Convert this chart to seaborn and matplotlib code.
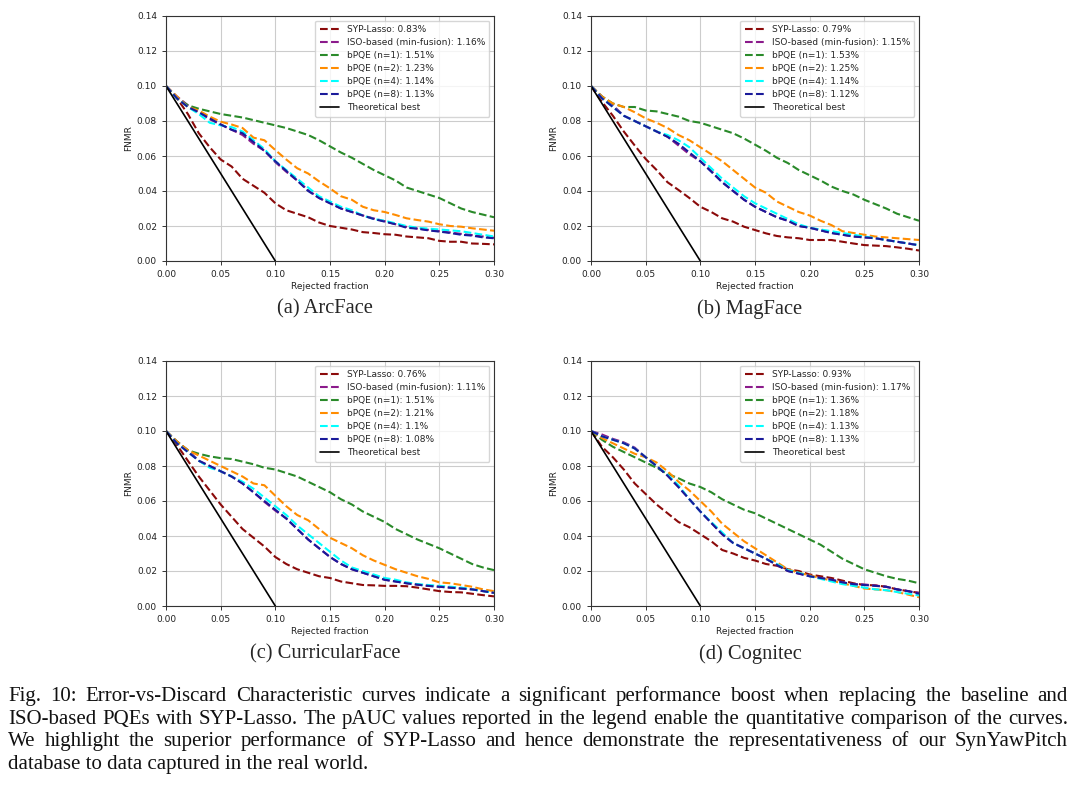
import matplotlib
matplotlib.use("Agg")
import matplotlib.pyplot as plt
import numpy as np
import pandas as pd
import seaborn as sns

# rejected fraction grid shared by all curves
rejected = [round(0.01 * i, 2) for i in range(31)]

series_names = ["SYP-Lasso", "ISO-based (min-fusion)", "bPQE (n=1)",
                "bPQE (n=2)", "bPQE (n=4)", "bPQE (n=8)"]
series_colors = ["#8b0a0a", "#8b1a8b", "#2a8a2a", "darkorange", "cyan", "#1a1a9a"]

panel_titles = ["(a) ArcFace", "(b) MagFace", "(c) CurricularFace", "(d) Cognitec"]

pauc_arcface = ["0.83%", "1.16%", "1.51%", "1.23%", "1.14%", "1.13%"]
pauc_magface = ["0.79%", "1.15%", "1.53%", "1.25%", "1.14%", "1.12%"]
pauc_curricular = ["0.76%", "1.11%", "1.51%", "1.21%", "1.1%", "1.08%"]
pauc_cognitec = ["0.93%", "1.17%", "1.36%", "1.18%", "1.13%", "1.13%"]

# ---- ArcFace ----
arc_syp = [0.100, 0.093, 0.084, 0.073, 0.065, 0.058, 0.054, 0.047, 0.043, 0.039, 0.033,
           0.029, 0.027, 0.025, 0.022, 0.020, 0.019, 0.018, 0.0165, 0.016, 0.0153,
           0.015, 0.014, 0.0135, 0.013, 0.0115, 0.011, 0.011, 0.010, 0.0098, 0.0095]
arc_iso = [0.100, 0.094, 0.089, 0.085, 0.081, 0.078, 0.075, 0.072, 0.067, 0.063, 0.0565,
           0.051, 0.046, 0.0405, 0.036, 0.033, 0.030, 0.028, 0.026, 0.0243, 0.0227,
           0.021, 0.0195, 0.0185, 0.0178, 0.017, 0.0163, 0.0155, 0.0148, 0.014, 0.0133]
arc_n1 = [0.100, 0.093, 0.089, 0.087, 0.0855, 0.084, 0.083, 0.082, 0.0805, 0.079, 0.0775,
          0.076, 0.074, 0.072, 0.069, 0.0655, 0.062, 0.059, 0.0555, 0.052, 0.049,
          0.046, 0.042, 0.040, 0.038, 0.036, 0.033, 0.030, 0.028, 0.0265, 0.025]
arc_n2 = [0.100, 0.094, 0.088, 0.086, 0.0825, 0.0796, 0.078, 0.076, 0.0705, 0.069, 0.0634,
          0.058, 0.053, 0.050, 0.0455, 0.0415, 0.037, 0.035, 0.031, 0.029, 0.028,
          0.0263, 0.0244, 0.0234, 0.0225, 0.021, 0.020, 0.0196, 0.0187, 0.018, 0.0173]
arc_n4 = [0.100, 0.093, 0.088, 0.084, 0.079, 0.0775, 0.0765, 0.074, 0.069, 0.064, 0.057,
          0.052, 0.047, 0.042, 0.037, 0.034, 0.031, 0.029, 0.026, 0.024, 0.023,
          0.0215, 0.020, 0.019, 0.0185, 0.018, 0.0175, 0.017, 0.016, 0.015, 0.014]
arc_n8 = [0.100, 0.093, 0.088, 0.085, 0.0815, 0.078, 0.075, 0.073, 0.068, 0.063, 0.057,
          0.0515, 0.046, 0.040, 0.036, 0.033, 0.030, 0.028, 0.026, 0.024, 0.0225,
          0.021, 0.019, 0.0185, 0.0175, 0.0168, 0.016, 0.015, 0.0145, 0.0135, 0.013]

# ---- MagFace ----
mag_syp = [0.100, 0.091, 0.083, 0.074, 0.066, 0.0583, 0.052, 0.045, 0.0406, 0.036, 0.031,
           0.028, 0.0244, 0.0225, 0.0196, 0.0177, 0.0158, 0.0143, 0.0135, 0.013, 0.012,
           0.012, 0.012, 0.011, 0.010, 0.0091, 0.0088, 0.0085, 0.0078, 0.007, 0.006]
mag_iso = [0.100, 0.094, 0.089, 0.083, 0.080, 0.077, 0.074, 0.071, 0.066, 0.061, 0.057,
           0.0515, 0.045, 0.040, 0.035, 0.031, 0.028, 0.025, 0.023, 0.020, 0.019,
           0.0175, 0.016, 0.015, 0.014, 0.0135, 0.013, 0.012, 0.011, 0.010, 0.009]
mag_n1 = [0.100, 0.094, 0.090, 0.088, 0.088, 0.086, 0.0855, 0.084, 0.0825, 0.080, 0.079,
          0.077, 0.075, 0.073, 0.070, 0.0665, 0.063, 0.059, 0.056, 0.052, 0.049,
          0.046, 0.0425, 0.040, 0.038, 0.035, 0.0325, 0.030, 0.027, 0.025, 0.023]
mag_n2 = [0.100, 0.094, 0.090, 0.088, 0.085, 0.0815, 0.079, 0.076, 0.072, 0.069, 0.065,
          0.061, 0.057, 0.052, 0.047, 0.042, 0.039, 0.034, 0.031, 0.028, 0.026,
          0.023, 0.0205, 0.017, 0.016, 0.015, 0.014, 0.0135, 0.013, 0.0125, 0.012]
mag_n4 = [0.100, 0.093, 0.088, 0.083, 0.080, 0.077, 0.074, 0.072, 0.069, 0.065, 0.059,
          0.053, 0.047, 0.042, 0.037, 0.033, 0.030, 0.027, 0.024, 0.021, 0.019,
          0.018, 0.017, 0.016, 0.015, 0.014, 0.013, 0.012, 0.011, 0.010, 0.009]
mag_n8 = [0.100, 0.093, 0.088, 0.083, 0.080, 0.077, 0.074, 0.071, 0.067, 0.062, 0.057,
          0.051, 0.045, 0.040, 0.035, 0.031, 0.028, 0.025, 0.023, 0.020, 0.019,
          0.0175, 0.016, 0.015, 0.014, 0.0135, 0.013, 0.012, 0.011, 0.010, 0.009]

# ---- CurricularFace ----
cur_syp = [0.100, 0.092, 0.083, 0.074, 0.066, 0.058, 0.051, 0.044, 0.039, 0.034, 0.028,
           0.024, 0.021, 0.019, 0.017, 0.016, 0.014, 0.013, 0.012, 0.0118, 0.0115,
           0.0115, 0.0113, 0.0105, 0.0095, 0.0085, 0.008, 0.0078, 0.007, 0.0062, 0.0055]
cur_iso = [0.100, 0.094, 0.089, 0.083, 0.080, 0.077, 0.074, 0.070, 0.065, 0.0595, 0.0545,
           0.050, 0.044, 0.038, 0.033, 0.028, 0.024, 0.021, 0.019, 0.017, 0.015,
           0.014, 0.013, 0.0122, 0.0115, 0.011, 0.0105, 0.010, 0.0095, 0.0085, 0.0075]
cur_n1 = [0.100, 0.094, 0.089, 0.087, 0.0855, 0.0845, 0.084, 0.0825, 0.081, 0.079, 0.078,
          0.076, 0.074, 0.071, 0.068, 0.065, 0.061, 0.058, 0.054, 0.051, 0.048,
          0.044, 0.041, 0.038, 0.0355, 0.033, 0.030, 0.027, 0.024, 0.022, 0.0205]
cur_n2 = [0.100, 0.094, 0.089, 0.086, 0.083, 0.080, 0.077, 0.074, 0.070, 0.069, 0.063,
          0.057, 0.052, 0.049, 0.044, 0.039, 0.036, 0.033, 0.029, 0.026, 0.0235,
          0.021, 0.019, 0.017, 0.0155, 0.0135, 0.013, 0.012, 0.011, 0.0095, 0.0085]
cur_n4 = [0.100, 0.093, 0.088, 0.083, 0.079, 0.077, 0.074, 0.071, 0.067, 0.062, 0.057,
          0.052, 0.046, 0.041, 0.036, 0.031, 0.026, 0.022, 0.020, 0.018, 0.016,
          0.015, 0.0135, 0.0125, 0.012, 0.0115, 0.011, 0.0105, 0.0095, 0.0085, 0.0075]
cur_n8 = [0.100, 0.093, 0.088, 0.083, 0.080, 0.077, 0.074, 0.070, 0.065, 0.060, 0.055,
          0.050, 0.044, 0.038, 0.033, 0.028, 0.024, 0.021, 0.019, 0.017, 0.015,
          0.014, 0.013, 0.0122, 0.0115, 0.011, 0.0105, 0.010, 0.0095, 0.0085, 0.0075]

# ---- Cognitec ----
cog_syp = [0.100, 0.091, 0.085, 0.078, 0.070, 0.064, 0.058, 0.053, 0.048, 0.045, 0.041,
           0.037, 0.032, 0.030, 0.0275, 0.026, 0.024, 0.023, 0.021, 0.020, 0.018,
           0.017, 0.016, 0.0145, 0.013, 0.012, 0.0118, 0.011, 0.0095, 0.0085, 0.0075]
cog_iso = [0.100, 0.098, 0.0955, 0.0935, 0.0905, 0.085, 0.080, 0.0745, 0.068, 0.061, 0.054,
           0.0475, 0.041, 0.036, 0.033, 0.030, 0.027, 0.0235, 0.020, 0.0185, 0.017,
           0.016, 0.015, 0.0135, 0.0125, 0.0123, 0.0117, 0.011, 0.0095, 0.0085, 0.0075]
cog_n1 = [0.100, 0.095, 0.091, 0.088, 0.085, 0.082, 0.079, 0.0755, 0.073, 0.070, 0.068,
          0.065, 0.061, 0.058, 0.055, 0.053, 0.050, 0.047, 0.044, 0.041, 0.038,
          0.035, 0.031, 0.027, 0.024, 0.021, 0.019, 0.017, 0.0155, 0.0145, 0.013]
cog_n2 = [0.100, 0.096, 0.093, 0.090, 0.087, 0.085, 0.082, 0.077, 0.071, 0.066, 0.060,
          0.054, 0.047, 0.042, 0.037, 0.033, 0.029, 0.025, 0.021, 0.019, 0.0175,
          0.016, 0.0145, 0.013, 0.0115, 0.010, 0.0095, 0.009, 0.008, 0.0065, 0.005]
cog_n4 = [0.100, 0.097, 0.095, 0.093, 0.090, 0.085, 0.080, 0.075, 0.069, 0.061, 0.054,
          0.048, 0.042, 0.036, 0.033, 0.030, 0.027, 0.024, 0.0205, 0.019, 0.017,
          0.0155, 0.014, 0.0125, 0.0115, 0.0105, 0.0095, 0.009, 0.008, 0.007, 0.006]
cog_n8 = [0.100, 0.097, 0.095, 0.093, 0.090, 0.085, 0.080, 0.0745, 0.068, 0.061, 0.054,
          0.0475, 0.041, 0.036, 0.033, 0.030, 0.027, 0.0235, 0.020, 0.0185, 0.017,
          0.016, 0.015, 0.0135, 0.0125, 0.012, 0.0115, 0.011, 0.0095, 0.0085, 0.007]

# theoretical best line endpoints (data)
best_x = [0.0, 0.1]
best_y = [0.1, 0.0]

panels = [
    ([arc_syp, arc_iso, arc_n1, arc_n2, arc_n4, arc_n8], pauc_arcface),
    ([mag_syp, mag_iso, mag_n1, mag_n2, mag_n4, mag_n8], pauc_magface),
    ([cur_syp, cur_iso, cur_n1, cur_n2, cur_n4, cur_n8], pauc_curricular),
    ([cog_syp, cog_iso, cog_n1, cog_n2, cog_n4, cog_n8], pauc_cognitec),
]

caption_lines = [
    "Fig. 10: Error-vs-Discard Characteristic curves indicate a significant performance boost when replacing the baseline and",
    "ISO-based PQEs with SYP-Lasso. The pAUC values reported in the legend enable the quantitative comparison of the curves.",
    "We highlight the superior performance of SYP-Lasso and hence demonstrate the representativeness of our SynYawPitch",
    "database to data captured in the real world.",
]

sns.set_style("ticks")
plt.rcParams["font.family"] = ["DejaVu Sans"]

W, H = 1080, 791
fig = plt.figure(figsize=(W / 100, H / 100), dpi=100)

axes_px = [(166, 16), (591, 16), (166, 361), (591, 361)]
ax_w, ax_h = 328, 245

for (curves, paucs), (left, top), title in zip(panels, axes_px, panel_titles):
    ax = fig.add_axes([left / W, 1 - (top + ax_h) / H, ax_w / W, ax_h / H])
    for name, vals, pauc, col in zip(series_names, curves, paucs, series_colors):
        sns.lineplot(x=rejected, y=vals, ax=ax, color=col, linestyle="--",
                     linewidth=1.5, label=f"{name}: {pauc}")
    sns.lineplot(x=best_x, y=best_y, ax=ax, color="black", linewidth=1.2,
                 label="Theoretical best")
    ax.set_xlim(0, 0.30)
    ax.set_ylim(0, 0.14)
    ax.set_xticks(np.arange(0, 0.301, 0.05))
    ax.set_yticks(np.arange(0, 0.141, 0.02))
    ax.xaxis.set_major_formatter(matplotlib.ticker.FormatStrFormatter("%.2f"))
    ax.yaxis.set_major_formatter(matplotlib.ticker.FormatStrFormatter("%.2f"))
    ax.tick_params(labelsize=6.5, length=3, width=0.7, color="#333333", labelcolor="#222222")
    ax.grid(True, color="#cccccc", linewidth=0.8)
    for sp in ax.spines.values():
        sp.set_color("#333333")
        sp.set_linewidth(0.8)
    ax.set_xlabel("Rejected fraction", fontsize=6.5, labelpad=2, color="#222222")
    ax.set_ylabel("FNMR", fontsize=6.5, labelpad=3, color="#222222")
    leg = ax.legend(loc="upper right", fontsize=6.5, frameon=True, handlelength=2.2,
                    labelspacing=0.45, borderpad=0.5, fancybox=True)
    leg.get_frame().set_edgecolor("#cccccc")
    fig.text((left + ax_w / 2 - 5) / W, 1 - (top + ax_h + 48) / H, title,
             ha="center", va="center", fontsize=14.8, family="Liberation Serif")

# justified caption: lay out words so each full line spans the page width
renderer = fig.canvas.get_renderer()
x_start, x_end = 8, 1068
cap_kw = dict(va="baseline", fontsize=15, family="Liberation Serif", color="#111111")
for i, line in enumerate(caption_lines):
    y = 1 - (701 + i * 22.7) / H
    if i == len(caption_lines) - 1:
        fig.text(x_start / W, y, line, ha="left", **cap_kw)
        continue
    words = line.split(" ")
    texts = [fig.text(0, y, w, ha="left", **cap_kw) for w in words]
    widths = [t.get_window_extent(renderer).width for t in texts]
    gap = (x_end - x_start - sum(widths)) / (len(words) - 1)
    x = x_start
    for t, w in zip(texts, widths):
        t.set_x(x / W)
        x += w + gap

fig.savefig("out.png", dpi=100, facecolor="white")
